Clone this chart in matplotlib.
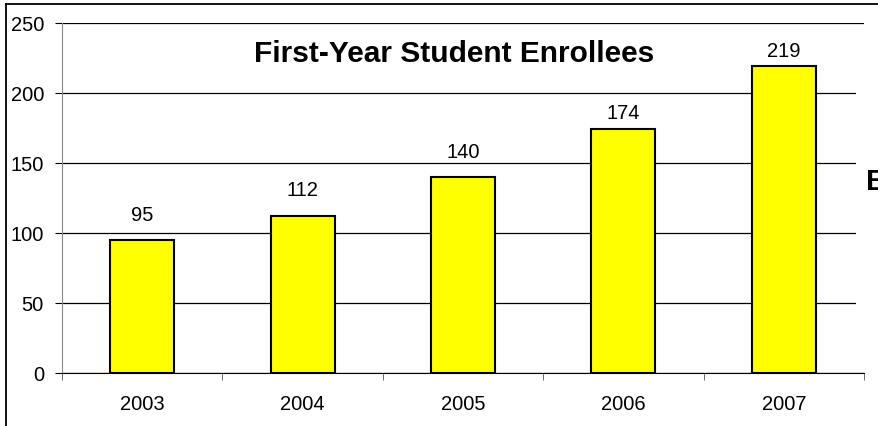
import matplotlib.pyplot as plt
from matplotlib.patches import Rectangle

years = ['2003', '2004', '2005', '2006', '2007']
enrollees = [95, 112, 140, 174, 219]
# gap (points) between bar top and its value label, as placed in the original
label_pad = [14.4, 15.1, 14.4, 7.9, 7.2]

plt.rcParams['font.family'] = ['Liberation Sans', 'DejaVu Sans']

fig = plt.figure(figsize=(8.79, 4.27), dpi=100)
W, H = 879, 427
# plot area in pixels: x 62..864, y 24..374
ax = fig.add_axes([62 / W, 1 - 374 / H, (864 - 62) / W, (374 - 24) / H])

x = list(range(len(years)))
ax.bar(x, enrollees, width=0.4, color='#ffff00', edgecolor='black', linewidth=1.5, zorder=3)
for xi, v, p in zip(x, enrollees, label_pad):
    ax.annotate(str(v), (xi, v), xytext=(0, p), textcoords='offset points',
                ha='center', va='baseline', fontsize=14.5, zorder=4)

ax.set_xlim(-0.5, 4.5)
ax.set_ylim(0, 250)
ax.set_yticks([0, 50, 100, 150, 200, 250])
ax.yaxis.grid(True, color='black', linewidth=0.9, zorder=0)
ax.set_xticks(x)
ax.set_xticklabels(years, fontsize=14.5)
ax.set_xticks([-0.5, 0.5, 1.5, 2.5, 3.5, 4.5], minor=True)
ax.tick_params(axis='x', which='major', length=0, pad=15)
ax.tick_params(axis='x', which='minor', length=5, color='#555555')
ax.tick_params(axis='y', length=5, labelsize=14.5, pad=8, color='black')
for s in ['top', 'right']:
    ax.spines[s].set_visible(False)
ax.spines['left'].set_color('#888888')
ax.spines['bottom'].set_color('black')
ax.spines['bottom'].set_zorder(5)

ax.text(0.489, 0.915, 'First-Year Student Enrollees', transform=ax.transAxes,
        ha='center', va='center', fontsize=21.5, fontweight='bold', zorder=4)

# white box of a cut-off neighbour label covering gridline ends
fig.patches.append(Rectangle((856 / W, 1 - 371 / H), 30 / W, (371 - 30) / H,
                             transform=fig.transFigure, facecolor='white',
                             edgecolor='none', zorder=10))
fig.text(866 / W, 1 - 182 / H, 'E', fontsize=21, fontweight='bold',
         ha='left', va='center', zorder=11)

# outer chart frame
fig.add_artist(plt.Line2D([6 / W, 6 / W], [0, 1 - 5 / H], color='black', linewidth=1.3,
                          transform=fig.transFigure))
fig.add_artist(plt.Line2D([6 / W, 1], [1 - 5 / H, 1 - 5 / H], color='black', linewidth=1.3,
                          transform=fig.transFigure))

fig.savefig('out.png', dpi=100)
